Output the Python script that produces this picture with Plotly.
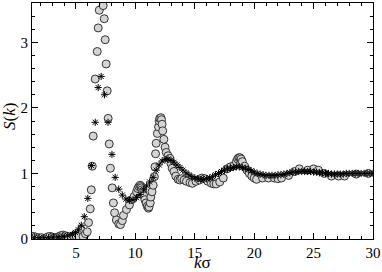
import plotly.graph_objects as go

# Circles series (k*sigma, S(k))
k_circ = [1.4, 1.6, 1.85, 2.1, 2.4, 2.6, 2.8, 3.0, 3.2, 3.45, 3.7, 3.9, 4.1, 4.3, 4.6, 4.8,
          5.0, 5.25, 5.45, 5.6, 5.8, 5.95, 6.06, 6.2, 6.29, 6.37, 6.45, 6.62, 6.79, 6.87, 6.96,
          7.05, 7.15, 7.29, 7.38, 7.46, 7.54, 7.63, 7.71, 7.8, 7.9, 8.05, 8.15, 8.25, 8.4, 8.6,
          8.75, 8.9, 9.0, 9.25, 9.5, 9.7, 9.9, 10.1, 10.2, 10.3, 10.4, 10.45, 10.5, 10.55, 10.6,
          10.7, 10.8, 10.9, 11.0, 11.1, 11.15, 11.25, 11.3, 11.4, 11.5, 11.6, 11.65, 11.7, 11.75,
          11.85, 11.95, 12.0, 12.05, 12.15, 12.2, 12.25, 12.3, 12.4, 12.5, 12.6, 12.75, 12.9,
          13.0, 13.1, 13.25, 13.4, 13.6, 13.75, 13.9, 14.1, 14.3, 14.6, 14.8, 15.1, 15.4, 15.6,
          15.85, 16.1, 16.4, 16.6, 16.8, 17.1, 17.4, 17.7, 18.0, 18.3, 18.5, 18.6, 18.7, 18.8,
          18.9, 19.0, 19.2, 19.4, 19.6, 19.8, 20.0, 20.2, 20.7, 21.2, 21.7, 22.0, 22.3, 22.9,
          23.4, 23.8, 24.5, 25.0, 25.4, 25.9, 26.5, 27.1, 27.6, 28.6, 29.6]
s_circ = [0.04, 0.03, 0.02, 0.02, 0.01, 0.03, 0.04, 0.03, 0.02, 0.03, 0.05, 0.06, 0.05, 0.04, 0.03, 0.05,
          0.05, 0.04, 0.14, 0.04, 0.08, 0.11, 0.25, 0.46, 0.75, 1.11, 1.57, 2.44, 2.86, 3.22, 3.49,
          3.75, 3.85, 3.56, 3.36, 3.04, 2.67, 2.26, 1.84, 1.45, 1.08, 0.78, 0.55, 0.40, 0.29, 0.23,
          0.22, 0.28, 0.36, 0.45, 0.52, 0.60, 0.65, 0.72, 0.77, 0.80, 0.82, 0.80, 0.78, 0.75, 0.72,
          0.66, 0.60, 0.55, 0.50, 0.47, 0.49, 0.55, 0.64, 0.72, 0.82, 0.95, 1.10, 1.30, 1.46,
          1.61, 1.71, 1.80, 1.84, 1.85, 1.82, 1.75, 1.65, 1.52, 1.40, 1.32, 1.27, 1.23,
          1.15, 1.08, 1.03, 0.96, 0.91, 0.90, 0.92, 0.90, 0.88, 0.86, 0.85, 0.88, 0.90, 0.93,
          0.92, 0.88, 0.85, 0.84, 0.84, 0.87, 0.93, 1.07, 1.10, 1.12, 1.18, 1.22, 1.24, 1.24,
          1.22, 1.18, 1.11, 1.05, 1.00, 0.96, 0.93, 0.91, 0.93, 0.93, 0.93, 0.92, 0.93, 0.97,
          1.03, 1.07, 1.05, 1.07, 1.05, 1.00, 0.96, 0.96, 0.96, 0.99, 1.00]

# Asterisk series
k_star = [1.5, 1.9, 2.3, 2.7, 3.1, 3.5, 3.9, 4.3, 4.7, 4.95, 5.2, 5.45, 5.7, 6.0, 6.3, 6.62,
          6.87, 7.12, 7.4, 7.7, 8.03, 8.3, 8.6, 8.9, 9.2, 9.5, 9.8, 10.1, 10.4, 10.7, 10.95,
          11.2, 11.5, 11.75, 12.0, 12.25, 12.5, 12.75, 13.0, 13.25, 13.5, 13.75, 14.0, 14.25,
          14.5, 14.75, 15.0, 15.25, 15.5, 15.75, 16.0, 16.25, 16.5, 16.75, 17.0, 17.25, 17.5,
          17.75, 18.0, 18.25, 18.5, 18.75, 19.0, 19.25, 19.5, 19.75, 20.0, 20.25, 20.5, 20.75,
          21.0, 21.25, 21.5, 21.75, 22.0, 22.25, 22.5, 22.75, 23.0, 23.25, 23.5, 23.75, 24.0,
          24.25, 24.5, 24.75, 25.0, 25.25, 25.5, 25.75, 26.0, 26.25, 26.5, 26.75, 27.0, 27.25,
          27.5, 27.75, 28.0, 28.25, 28.5, 28.75, 29.0, 29.25, 29.5, 29.75, 30.0]
s_star = [0.02, 0.02, 0.02, 0.02, 0.03, 0.03, 0.04, 0.05, 0.07, 0.10, 0.14, 0.21, 0.34, 0.62, 1.12, 1.78,
          2.31, 2.48, 2.20, 1.78, 1.29, 0.94, 0.76, 0.67, 0.61, 0.59, 0.60, 0.63, 0.68, 0.75, 0.81,
          0.87, 0.94, 1.05, 1.13, 1.19, 1.21, 1.22, 1.20, 1.17, 1.13, 1.09, 1.05, 1.01,
          0.98, 0.95, 0.93, 0.92, 0.91, 0.91, 0.92, 0.93, 0.95, 0.98, 1.00, 1.03, 1.05,
          1.07, 1.08, 1.09, 1.10, 1.10, 1.09, 1.08, 1.06, 1.04, 1.02, 1.00, 0.99, 0.98,
          0.97, 0.97, 0.97, 0.97, 0.98, 0.98, 0.99, 1.00, 1.01, 1.02, 1.02, 1.03, 1.03,
          1.03, 1.03, 1.03, 1.02, 1.02, 1.01, 1.01, 1.00, 1.00, 0.99, 0.99, 0.99, 0.99,
          0.99, 1.00, 1.00, 1.00, 1.00, 1.00, 1.00, 1.00, 1.00, 1.00, 1.00]

x_ticks = [5, 10, 15, 20, 25, 30]
y_ticks = [0, 1, 2, 3]

fig = go.Figure()
fig.add_trace(go.Scatter(
    x=k_circ, y=s_circ, mode="markers",
    marker=dict(symbol="circle", size=8, color="#d4d4d4",
                line=dict(width=1, color="#333333")),
    showlegend=False, cliponaxis=True))
fig.add_trace(go.Scatter(
    x=k_star, y=s_star, mode="markers",
    marker=dict(symbol="asterisk-open", size=6, color="black",
                line=dict(width=1, color="black")),
    showlegend=False, cliponaxis=True))

SERIF = "Liberation Serif"
font = dict(family=SERIF, size=15, color="black")
axis_common = dict(
    showline=True, linecolor="black", linewidth=1, mirror="ticks",
    ticks="inside", ticklen=6, tickwidth=1, tickcolor="black",
    showgrid=False, zeroline=False, tickfont=font, automargin=False,
)
fig.update_layout(
    width=382, height=272,
    margin=dict(l=32, r=9, t=3, b=33, autoexpand=False),
    paper_bgcolor="white", plot_bgcolor="white",
    font=font,
    xaxis=dict(range=[1.3, 30], tickvals=x_ticks, ticktext=[str(v) for v in x_ticks],
               minor=dict(dtick=1, tick0=0, ticks="inside", ticklen=3, tickcolor="black"),
               ticklabelstandoff=0,
               **axis_common),
    yaxis=dict(range=[0, 3.6], tickvals=y_ticks, ticktext=[str(v) for v in y_ticks],
               minor=dict(dtick=0.2, tick0=0, ticks="inside", ticklen=3, tickcolor="black"),
               **axis_common),
    annotations=[
        dict(text="<i>k</i>σ", xref="paper", yref="paper", x=0.50, y=-0.098,
             xanchor="center", yanchor="middle", showarrow=False,
             font=dict(family=SERIF, size=17, color="black")),
        dict(text="<i>S</i>(<i>k</i>)", xref="paper", yref="paper", x=-0.0645, y=0.517,
             xanchor="center", yanchor="middle", showarrow=False, textangle=-90,
             font=dict(family=SERIF, size=17, color="black")),
    ],
)
fig.write_html("out.html", config={"displayModeBar": False},
               post_script="document.body.style.margin='0px';")
